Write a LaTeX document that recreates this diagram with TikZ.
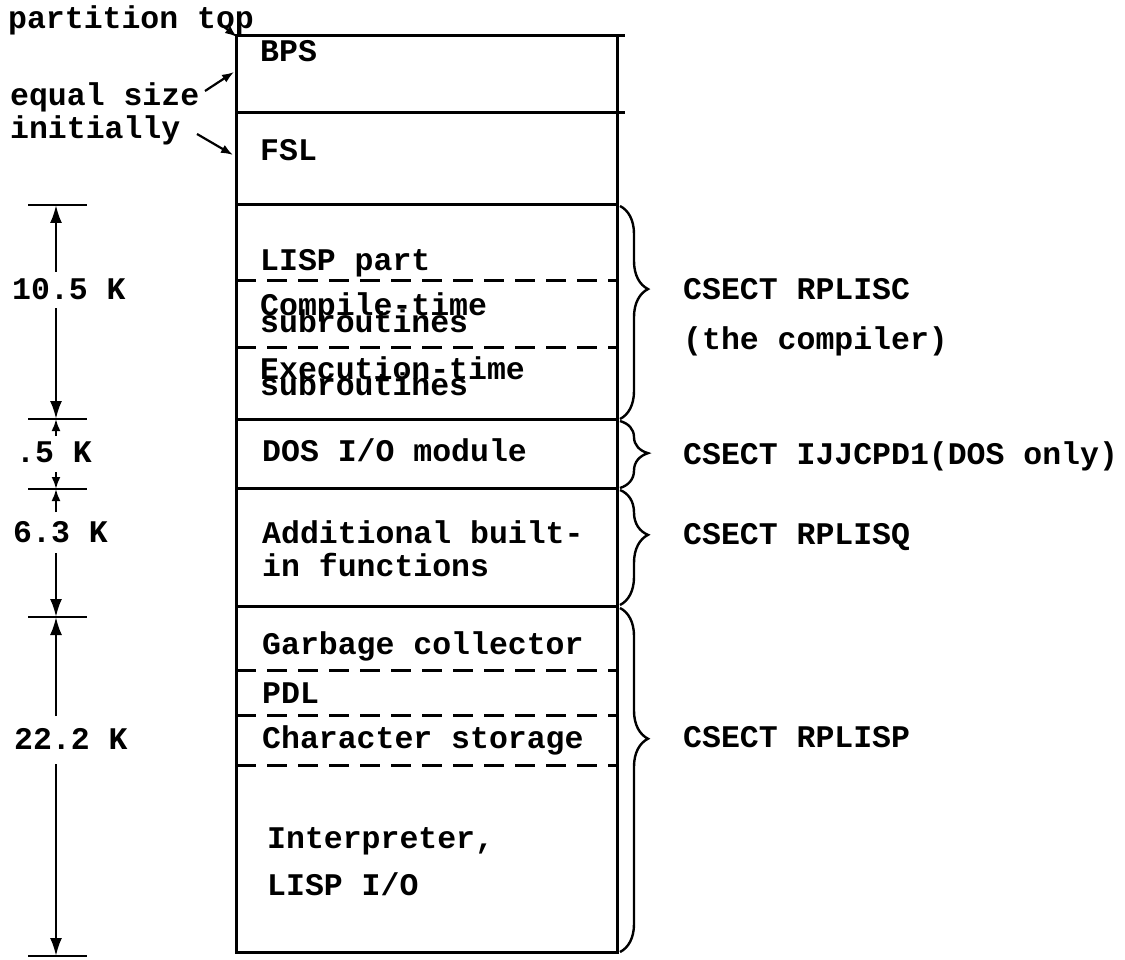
\documentclass[tikz,border=0pt]{standalone}
\usepackage{fontspec}
\setmainfont{Liberation Mono}
\usetikzlibrary{arrows.meta,decorations.pathreplacing}
\begin{document}
\begin{tikzpicture}[x=1pt,y=-1pt,
  txt/.style={anchor=west,inner sep=0pt,text height=18pt,text depth=0pt,font=\fontsize{31.5}{38}\selectfont\bfseries},
  box/.style={line width=3pt},
  dsh/.style={line width=3pt,dash pattern=on 20pt off 11pt},
  dimline/.style={line width=2.4pt},
  dimarr/.style={line width=2.4pt,-{Latex[length=18pt,width=12pt]}},
  smallarr/.style={line width=2.2pt,-{Latex[length=12pt,width=9pt]}},
  brc/.style={line width=2.4pt,decorate,decoration={brace,amplitude=28pt,aspect=#1}}
]
\useasboundingbox (0,0) rectangle (1125,960);

% main column
\coordinate (tl) at (236,36);
\coordinate (tr) at (617,36);
\coordinate (br) at (617,952);
\draw[box] (tl) rectangle (br);
\foreach \y/\n in {113/a,205/b,419/c,488/d,606/e}{
  \coordinate (L\n) at (236,\y); \coordinate (R\n) at (617,\y);
  \draw[box] (L\n) -- (R\n);
}
\foreach \y/\n in {281/f,347/g,670/h,715/i,765/j}{
  \coordinate (L\n) at (236,\y); \coordinate (R\n) at (617,\y);
  \draw[dsh] (L\n) -- (R\n);
}
% small marks past the right edge
\coordinate (stA) at (625,36);  \coordinate (stB) at (625,113);
\draw[box] (tr) -- (stA);
\draw[box] (Ra) -- (stB);

% texts inside the column
\node[txt] (bps)  at (260,53)  {BPS};
\node[txt] (fsl)  at (260,152) {FSL};
\node[txt] (lisp) at (260,262) {LISP part};
\node[txt] (comp) at (260,307) {Compile-time};
\node[txt] (csub) at (260,323) {subroutines};
\node[txt] (exe)  at (260,370) {Execution-time};
\node[txt] (esub) at (260,386) {subroutines};
\node[txt] (dos)  at (262,452) {DOS I/O module};
\node[txt] (add1) at (262,534) {Additional built-};
\node[txt] (add2) at (262,567) {in functions};
\node[txt] (gc)   at (262,645) {Garbage collector};
\node[txt] (pdl)  at (262,694) {PDL};
\node[txt] (chs)  at (262,739) {Character storage};
\node[txt] (int)  at (267,839) {Interpreter,};
\node[txt] (lio)  at (267,886) {LISP I/O};

% left annotations
\node[txt] (ptop) at (8,20)   {partition top};
\node[txt] (eq)   at (10,97)  {equal size};
\node[txt] (ini)  at (10,130) {initially};
\coordinate (ptA) at (223,26);  \coordinate (ptB) at (237,37);
\coordinate (eqA) at (205,91);  \coordinate (eqB) at (234,72);
\coordinate (inA) at (197,134); \coordinate (inB) at (233,155);
\draw[smallarr] (ptA) -- (ptB);
\draw[smallarr] (eqA) -- (eqB);
\draw[smallarr] (inA) -- (inB);

% dimension column
\node[txt] (k105) at (12,290) {10.5 K};
\node[txt] (k05)  at (16,453) {.5 K};
\node[txt] (k63)  at (13,533) {6.3 K};
\node[txt] (k222) at (14,740) {22.2 K};
\foreach \y/\n in {205/1,419/2,489/3,617/4,956/5}{
  \coordinate (tkL\n) at (28,\y); \coordinate (tkR\n) at (87,\y);
  \coordinate (tk\n) at (56,\y);
  \draw[dimline] (tkL\n) -- (tkR\n);
}
\coordinate (s1) at (56,272); \coordinate (s2) at (56,308);
\coordinate (s3) at (56,436); \coordinate (s4) at (56,472);
\coordinate (s5) at (56,512); \coordinate (s6) at (56,553);
\coordinate (s7) at (56,716); \coordinate (s8) at (56,764);
\draw[dimarr] (s1) -- (tk1);
\draw[dimarr] (s2) -- (tk2);
\draw[smallarr] (s3) -- (tk2);
\draw[smallarr] (s4) -- (tk3);
\draw[smallarr] (s5) -- (tk3);
\draw[dimarr] (s6) -- (tk4);
\draw[dimarr] (s7) -- (tk4);
\draw[dimarr] (s8) -- (tk5);

% braces and CSECT labels
\coordinate (b1s) at (620,206); \coordinate (b1e) at (620,419);
\coordinate (b2s) at (620,421); \coordinate (b2e) at (620,488);
\coordinate (b3s) at (620,490); \coordinate (b3e) at (620,605);
\coordinate (b4s) at (620,608); \coordinate (b4e) at (620,952);
\draw[brc=0.39] (b1s) -- (b1e);
\draw[brc=0.48] (b2s) -- (b2e);
\draw[brc=0.39] (b3s) -- (b3e);
\draw[brc=0.38] (b4s) -- (b4e);
\node[txt] (c1)  at (683,290) {CSECT RPLISC};
\node[txt] (c1b) at (683,340) {(the compiler)};
\node[txt] (c2)  at (683,455) {CSECT IJJCPD1(DOS only)};
\node[txt] (c3)  at (683,535) {CSECT RPLISQ};
\node[txt] (c4)  at (683,738) {CSECT RPLISP};
\end{tikzpicture}
\end{document}
